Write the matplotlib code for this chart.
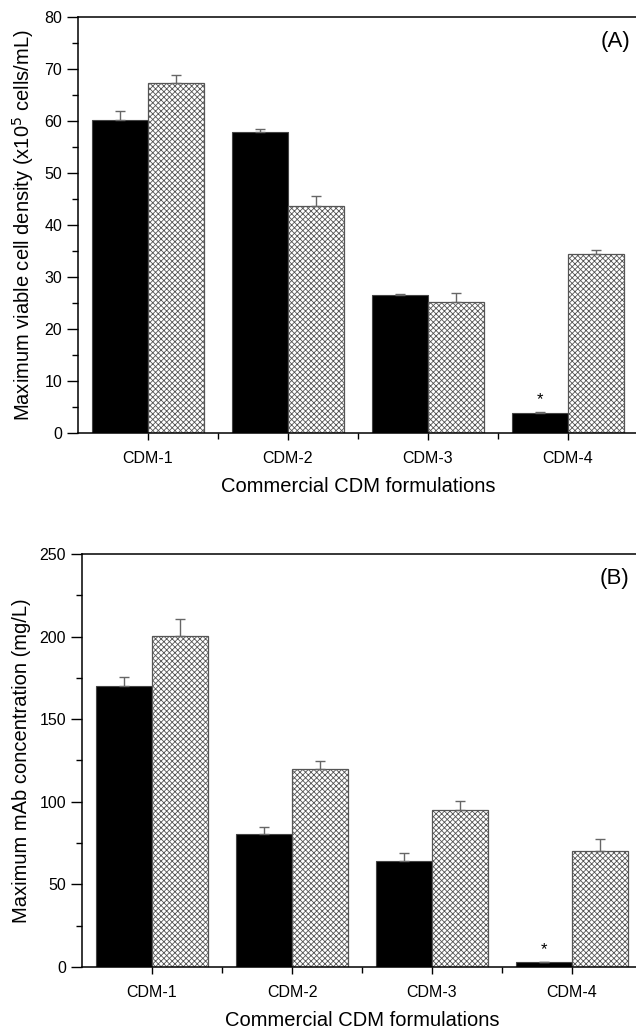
import numpy as np
import matplotlib
matplotlib.use("Agg")
import matplotlib.pyplot as plt
from matplotlib.ticker import MultipleLocator

plt.rcParams['font.family'] = ['Liberation Sans', 'DejaVu Sans']
plt.rcParams['hatch.linewidth'] = 0.6

categories = ["CDM-1", "CDM-2", "CDM-3", "CDM-4"]

# panel A: maximum viable cell density (x10^5 cells/mL)
vcd_black = [60.2, 57.9, 26.5, 3.8]
vcd_black_err = [1.7, 0.5, 0.15, 0.2]
vcd_hatch = [67.3, 43.7, 25.2, 34.5]
vcd_hatch_err = [1.6, 1.9, 1.7, 0.7]

# panel B: maximum mAb concentration (mg/L)
mab_black = [170.0, 80.8, 64.4, 3.0]
mab_black_err = [5.3, 4.2, 4.3, 0.0]
mab_hatch = [200.6, 119.8, 94.8, 70.2]
mab_hatch_err = [9.9, 4.7, 5.5, 7.1]

fig = plt.figure(figsize=(6.36, 10.32), dpi=100)
axA = fig.add_axes([0.1226, 0.5804, 0.8805, 0.4031])
axB = fig.add_axes([0.129, 0.0630, 0.8805, 0.4002])

x = np.arange(1, len(categories) + 1)
w = 0.4


def panel(ax, black, berr, hatch, herr, ymax, major, ylabel, tag, tagx):
    zeros = [0] * len(black)
    ax.bar(x - w/2, black, w, color='black', edgecolor='#444444', linewidth=0.8)
    ax.bar(x + w/2, hatch, w, color='white', edgecolor='#555555',
           hatch='xxxxxx', linewidth=0.9)
    ax.errorbar(x - w/2, black, yerr=[zeros, berr], fmt='none',
                ecolor='#666666', elinewidth=1, capsize=3.5, capthick=1)
    ax.errorbar(x + w/2, hatch, yerr=[zeros, herr], fmt='none',
                ecolor='#666666', elinewidth=1, capsize=3.5, capthick=1)
    # significance marker above the CDM-4 black bar
    ax.text(x[3] - w/2, black[3] + berr[3] + ymax * 0.012, '*',
            ha='center', va='bottom', fontsize=12)
    ax.set_xlim(0.5, 4.5)
    ax.set_ylim(0, ymax)
    ax.set_xticks(x)
    ax.set_xticklabels(categories, fontsize=11.5)
    ax.set_xticks(x[:-1] + 0.5, minor=True)
    ax.yaxis.set_major_locator(MultipleLocator(major))
    ax.yaxis.set_minor_locator(MultipleLocator(major / 2))
    ax.tick_params(axis='y', which='major', length=8, width=1, labelsize=11.5)
    ax.tick_params(axis='y', which='minor', length=4.5, width=1)
    ax.tick_params(axis='x', which='major', length=5, width=1, pad=8)
    ax.tick_params(axis='x', which='minor', length=4, width=1)
    for s in ax.spines.values():
        s.set_linewidth(1.1)
    ax.set_xlabel("Commercial CDM formulations", fontsize=14.5, labelpad=8)
    ax.set_ylabel(ylabel, fontsize=14.5, labelpad=6)
    ax.text(tagx, 0.94, tag, transform=ax.transAxes, ha='right',
            va='center', fontsize=16)


panel(axA, vcd_black, vcd_black_err, vcd_hatch, vcd_hatch_err, 80, 10,
      r"Maximum viable cell density (x10$^{5}$ cells/mL)", "(A)", 0.986)
panel(axB, mab_black, mab_black_err, mab_hatch, mab_hatch_err, 250, 50,
      "Maximum mAb concentration (mg/L)", "(B)", 0.978)

fig.savefig("out.png", dpi=100)
